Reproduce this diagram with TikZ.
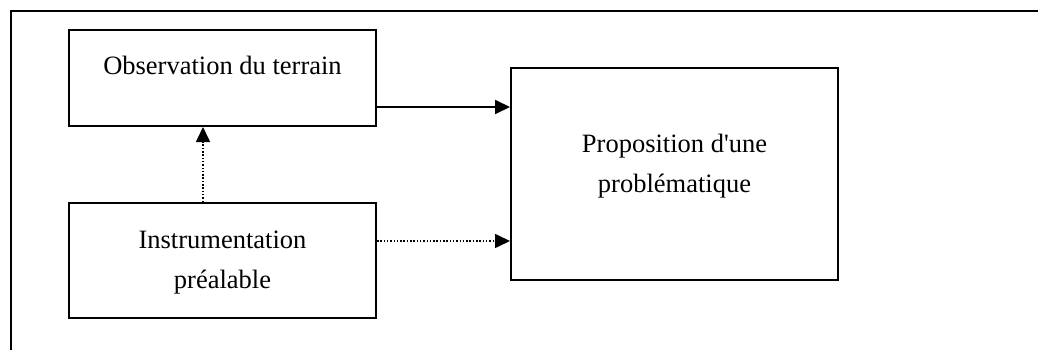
\documentclass[tikz,border=0pt]{standalone}
\usepackage{fontspec}
\setmainfont{Liberation Serif}
\usetikzlibrary{arrows.meta}
\tikzset{
  box/.style={draw, line width=2pt, inner sep=0pt},
  lbl/.style={font=\fontsize{26.5}{40}\selectfont, align=center, inner sep=0pt},
  solidarr/.style={line width=2pt, -{Triangle[length=15pt,width=14pt]}},
  dotarr/.style={line width=1.6pt, dash pattern=on 1.5pt off 1.8pt, -{Triangle[length=15pt,width=14pt]}}
}
\begin{document}
\begin{tikzpicture}[x=1pt, y=-1pt]
  \useasboundingbox (0,0) rectangle (1038,350);
  % cadre
  \draw[line width=2.5pt] (11,350) -- (11,11) -- (1038,11);

  % boites
  \node[box, minimum width=307pt, minimum height=96pt] (obs) at (222.5,78) {};
  \node[box, minimum width=307pt, minimum height=115pt] (instr) at (222.5,260.5) {};
  \node[box, minimum width=327pt, minimum height=212pt] (prop) at (674.5,174) {};

  % textes (base = ligne du bas)
  \node[lbl, anchor=base] (obstxt) at (222.5,75) {Observation du terrain};
  \node[lbl, anchor=base] (instrtxt) at (222.5,288) {Instrumentation\\pr\'ealable};
  \node[lbl, anchor=base] (proptxt) at (674.5,192) {Proposition d\textquotesingle une\\probl\'ematique};

  % fleches
  \draw[solidarr] ([yshift=-29pt]obs.east) -- ([yshift=-29pt]obs.east -| prop.west);
  \draw[dotarr] ([yshift=19.5pt]instr.east) -- ([yshift=19.5pt]instr.east -| prop.west);
  \draw[dotarr] ([xshift=-19.5pt]instr.north) -- ([xshift=-19.5pt]obs.south);
\end{tikzpicture}
\end{document}
